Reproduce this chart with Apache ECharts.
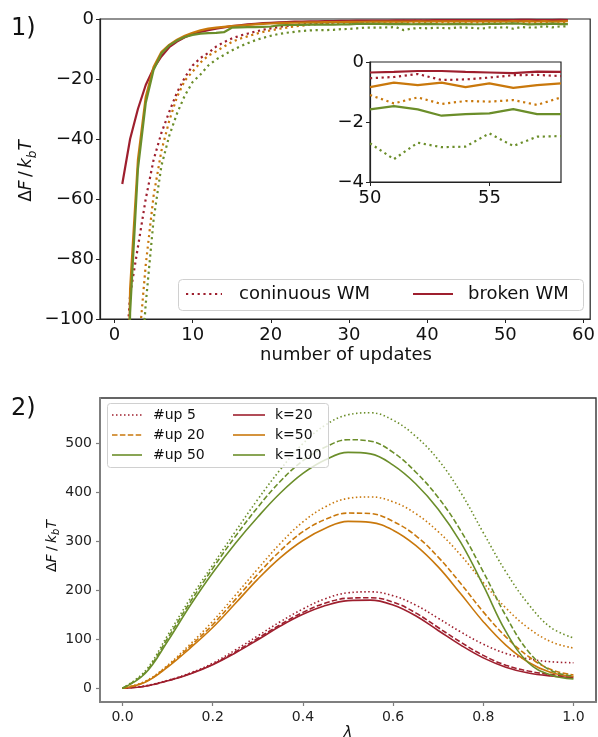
<!DOCTYPE html>
<html>
<head>
<meta charset="utf-8">
<script src="https://cdn.jsdelivr.net/npm/echarts@6/dist/echarts.min.js"></script>
<style>
  html, body { margin: 0; padding: 0; background: #fff; }
  #chart { width: 598px; height: 737px; }
</style>
</head>
<body>
<div id="chart"></div>
<script>
// ---------- panel 1: free energy vs number of updates ----------
const updates = [1,2,3,4,5,6,7,8,9,10,11,12,13,14,15,16,17,18,19,20,21,22,23,24,25,26,27,28,29,30,
  31,32,33,34,35,36,37,38,39,40,41,42,43,44,45,46,47,48,49,50,51,52,53,54,55,56,57,58];

// continuous WM (dotted)
const contRed = [-130,-92,-76,-60,-47,-38,-31,-24.5,-19.5,-15.5,-13,-11.3,-9.2,-7.7,-6.5,-5.6,-4.9,-4.2,-3.6,-3.1,
  -2.7,-2.3,-2.0,-1.7,-1.5,-1.4,-1.25,-1.1,-1.0,-1.0,-0.9,-0.85,-0.8,-0.75,-0.75,-0.7,-0.65,-0.68,-0.6,-0.62,
  -0.58,-0.6,-0.55,-0.57,-0.52,-0.55,-0.5,-0.53,-0.5,-0.54,-0.5,-0.4,-0.6,-0.58,-0.52,-0.44,-0.43,-0.47];
const contOrange = [-200,-150,-112,-82,-59,-44,-34,-26,-20.5,-17.5,-14.5,-12.2,-10.8,-9.2,-7.7,-6.6,-5.8,-5.0,-4.3,-3.8,
  -3.3,-2.9,-2.5,-2.2,-1.9,-1.7,-1.55,-1.4,-1.35,-1.3,-1.25,-1.2,-1.2,-1.15,-1.2,-1.15,-1.1,-1.2,-1.15,-1.1,
  -1.2,-1.15,-1.25,-1.2,-1.15,-1.25,-1.2,-1.3,-1.2,-1.1,-1.38,-1.18,-1.4,-1.3,-1.32,-1.27,-1.43,-1.18];
const contGreen = [-220,-170,-130,-95,-67,-49,-39,-31.5,-25.5,-21,-18.5,-15.5,-13.5,-12,-10.5,-9.2,-8.1,-7.1,-6.3,-5.6,
  -5.0,-4.6,-4.3,-4.0,-3.8,-3.7,-3.7,-3.6,-3.4,-3.3,-3.1,-2.9,-2.9,-2.9,-2.8,-2.7,-3.7,-3.2,-3.0,-3.1,
  -2.9,-3.0,-3.1,-2.8,-2.9,-3.0,-3.2,-2.8,-2.9,-2.71,-3.24,-2.69,-2.84,-2.82,-2.38,-2.8,-2.49,-2.47];

// broken WM (solid)
const brokenRed = [-55,-40,-30,-22,-16.5,-12.5,-9.4,-7.5,-6.1,-5.0,-4.3,-3.7,-3.2,-2.8,-2.4,-2.1,-1.8,-1.6,-1.4,-1.25,
  -1.1,-1.0,-0.9,-0.85,-0.8,-0.75,-0.7,-0.68,-0.62,-0.6,-0.57,-0.55,-0.52,-0.5,-0.5,-0.47,-0.45,-0.44,-0.42,-0.42,
  -0.4,-0.4,-0.39,-0.38,-0.38,-0.37,-0.37,-0.36,-0.35,-0.35,-0.33,-0.3,-0.3,-0.33,-0.35,-0.37,-0.32,-0.33];
const brokenOrange = [-240,-90,-47,-26,-16,-11,-8.6,-6.9,-5.6,-4.6,-3.8,-3.2,-2.9,-2.6,-2.4,-2.2,-2.0,-1.8,-1.6,-1.5,
  -1.4,-1.3,-1.25,-1.2,-1.15,-1.1,-1.05,-1.0,-1.0,-0.95,-0.95,-0.92,-0.9,-0.9,-0.88,-0.85,-0.86,-0.84,-0.82,-0.83,
  -0.8,-0.82,-0.79,-0.8,-0.78,-0.8,-0.77,-0.79,-0.76,-0.84,-0.69,-0.77,-0.69,-0.84,-0.71,-0.86,-0.77,-0.71];
const brokenGreen = [-260,-98,-50,-28,-17,-11.5,-8.8,-7.2,-6.0,-5.3,-4.9,-4.7,-4.6,-4.4,-2.9,-2.8,-2.7,-2.7,-2.6,-2.5,
  -2.1,-2.0,-2.0,-1.95,-1.9,-1.9,-1.85,-1.85,-1.8,-1.8,-1.6,-1.6,-1.65,-1.6,-1.7,-1.7,-1.65,-1.75,-1.7,-1.65,
  -1.7,-1.75,-1.7,-1.65,-1.7,-1.75,-1.7,-1.6,-1.65,-1.58,-1.47,-1.58,-1.79,-1.74,-1.71,-1.57,-1.74,-1.74];

const mainXTicks = [0, 10, 20, 30, 40, 50, 60];
const insetXTicks = [50, 55];

// ---------- panel 2: free energy profile along lambda ----------
const lambdaGrid = [0,0.05,0.1,0.15,0.2,0.25,0.3,0.35,0.4,0.45,0.5,0.55,0.6,0.65,0.7,0.75,0.8,0.85,0.9,0.95,1.0];

const k20up5   = [0,5,16,31,51,78,107,136,162,183,195,197,189,170,143,115,90,71,60,54,52];
const k20up20  = [0,4,15,30,49,74,102,130,155,174,184,185,176,154,124,94,67,47,35,28,24];
const k20up50  = [0,4,15,29,48,72,99,127,151,169,179,180,170,148,118,88,62,43,31,25,22];
const k50up5   = [0,14,47,90,137,190,244,296,340,371,388,391,381,357,320,272,216,164,123,95,82];
const k50up20  = [0,13,45,86,130,181,233,281,320,345,358,357,341,312,268,214,156,105,65,38,27];
const k50up50  = [0,12,43,82,124,173,223,267,302,327,341,339,323,292,248,193,136,88,53,32,24];
const k100up5  = [0,35,108,183,252,320,386,447,500,538,559,563,548,515,467,400,318,238,172,124,103];
const k100up20 = [0,32,102,176,245,310,370,423,465,493,508,505,482,442,390,322,238,148,75,36,25];
const k100up50 = [0,30,96,169,236,296,350,399,439,467,482,479,456,418,366,298,210,116,52,27,19];

const lambdaTicks = [0, 0.2, 0.4, 0.6, 0.8, 1.0];
const energyTicks = [0, 100, 200, 300, 400, 500];

// ---------- styling ----------
const RED = '#9e1f2e', ORANGE = '#c9780c', GREEN = '#6b8e2a';
const FONT = 'DejaVu Sans';
const minus = v => String(v).replace('-', '\u2212');

const pairs = (xs, ys) => xs.map((x, i) => [x, ys[i]]);
const tail = (xs, ys, from) => pairs(xs, ys).filter(p => p[0] >= from);

const DOT_TOP = [2.2, 3.6];
const DOT_BOT = [1.5, 2.5];
const DASH_BOT = [5.5, 2.4];

function topLine(data, color, dotted, axis) {
  return {
    type: 'line', xAxisIndex: axis, yAxisIndex: axis, data: data,
    symbol: 'none', silent: true, z: axis === 1 ? 6 : 3,
    lineStyle: { color: color, width: 2.2, type: dotted ? DOT_TOP : 'solid' }
  };
}
function botLine(ys, color, style) {
  return {
    type: 'line', xAxisIndex: 2, yAxisIndex: 2, data: pairs(lambdaGrid, ys),
    symbol: 'none', silent: true, smooth: 0.4, z: 3,
    lineStyle: { color: color, width: 1.6, type: style === 'dot' ? DOT_BOT : style === 'dash' ? DASH_BOT : 'solid' }
  };
}

const darkAxis = { show: true, onZero: false, lineStyle: { color: '#222', width: 1.2 } };
const greyAxis = { show: true, onZero: false, lineStyle: { color: '#7f7f7f', width: 2 } };

const option = {
  animation: false,
  backgroundColor: '#fff',
  textStyle: { fontFamily: FONT },
  grid: [
    { left: 100, top: 19, width: 492, height: 300, show: true, borderColor: '#222', borderWidth: 1.2, backgroundColor: '#fff' },
    { left: 370, top: 62, width: 191, height: 120, show: true, borderColor: '#222', borderWidth: 1.2, backgroundColor: '#fff', z: 4 },
    { left: 100, top: 398, width: 496, height: 304, show: true, borderColor: '#333', borderWidth: 1.4, backgroundColor: '#fff' }
  ],
  xAxis: [
    { gridIndex: 0, type: 'value', min: -1.85, max: 60.85, splitLine: { show: false },
      axisLine: darkAxis, axisTick: { show: true, length: 4, lineStyle: { color: '#222' }, customValues: mainXTicks },
      axisLabel: { fontSize: 18, color: '#111', margin: 7, customValues: mainXTicks, formatter: minus } },
    { gridIndex: 1, type: 'value', min: 50, max: 58, splitLine: { show: false }, z: 5,
      axisLine: darkAxis, axisTick: { show: true, length: 4, lineStyle: { color: '#222' }, customValues: insetXTicks },
      axisLabel: { fontSize: 18, color: '#111', margin: 7, customValues: insetXTicks, formatter: minus } },
    { gridIndex: 2, type: 'value', min: -0.05, max: 1.05, splitLine: { show: false },
      axisLine: greyAxis, axisTick: { show: true, length: 4, lineStyle: { color: '#7f7f7f', width: 1.2 }, customValues: lambdaTicks },
      axisLabel: { fontSize: 14, color: '#222', margin: 8, customValues: lambdaTicks, formatter: v => v.toFixed(1) } }
  ],
  yAxis: [
    { gridIndex: 0, type: 'value', min: -100, max: 0, interval: 20, splitLine: { show: false },
      axisLine: darkAxis, axisTick: { show: true, length: 4, lineStyle: { color: '#222' } },
      axisLabel: { fontSize: 18, color: '#111', margin: 6, formatter: minus } },
    { gridIndex: 1, type: 'value', min: -4, max: 0, interval: 2, splitLine: { show: false }, z: 5,
      axisLine: darkAxis, axisTick: { show: true, length: 4, lineStyle: { color: '#222' } },
      axisLabel: { fontSize: 18, color: '#111', margin: 6, formatter: minus } },
    { gridIndex: 2, type: 'value', min: -28.25, max: 593.25, splitLine: { show: false },
      axisLine: greyAxis, axisTick: { show: true, length: 4, lineStyle: { color: '#7f7f7f', width: 1.2 }, customValues: energyTicks },
      axisLabel: { fontSize: 14, color: '#222', margin: 8, customValues: energyTicks } }
  ],
  series: [
    topLine(pairs(updates, contRed), RED, true, 0),
    topLine(pairs(updates, contOrange), ORANGE, true, 0),
    topLine(pairs(updates, contGreen), GREEN, true, 0),
    topLine(pairs(updates, brokenRed), RED, false, 0),
    topLine(pairs(updates, brokenOrange), ORANGE, false, 0),
    topLine(pairs(updates, brokenGreen), GREEN, false, 0),

    topLine(tail(updates, contRed, 50), RED, true, 1),
    topLine(tail(updates, contOrange, 50), ORANGE, true, 1),
    topLine(tail(updates, contGreen, 50), GREEN, true, 1),
    topLine(tail(updates, brokenRed, 50), RED, false, 1),
    topLine(tail(updates, brokenOrange, 50), ORANGE, false, 1),
    topLine(tail(updates, brokenGreen, 50), GREEN, false, 1),

    botLine(k20up5, RED, 'dot'),
    botLine(k20up20, RED, 'dash'),
    botLine(k20up50, RED, 'solid'),
    botLine(k50up5, ORANGE, 'dot'),
    botLine(k50up20, ORANGE, 'dash'),
    botLine(k50up50, ORANGE, 'solid'),
    botLine(k100up5, GREEN, 'dot'),
    botLine(k100up20, GREEN, 'dash'),
    botLine(k100up50, GREEN, 'solid')
  ],
  graphic: [
    // panel tags
    { type: 'text', left: 11, top: 17, z: 20, style: { text: '1)', font: '24px "DejaVu Sans"', fill: '#111' } },
    { type: 'text', left: 11, top: 397, z: 20, style: { text: '2)', font: '24px "DejaVu Sans"', fill: '#111' } },

    // axis titles, panel 1
    { type: 'text', x: 27, y: 171, rotation: Math.PI / 2, z: 20,
      style: { text: '{u|Δ}{i|F} {u|/} {i|k}{s|b}{i|T}', align: 'center', verticalAlign: 'middle', fill: '#111',
        rich: {
          u: { fontFamily: FONT, fontSize: 17, lineHeight: 23, fill: '#111' },
          i: { fontFamily: FONT, fontSize: 17, lineHeight: 23, fontStyle: 'italic', fill: '#111' },
          s: { fontFamily: FONT, fontSize: 12, lineHeight: 13, fontStyle: 'italic', verticalAlign: 'bottom', fill: '#111' }
        } } },
    { type: 'text', x: 346, y: 355, z: 20,
      style: { text: 'number of updates', font: '18px "DejaVu Sans"', fill: '#111', align: 'center', verticalAlign: 'middle' } },

    // axis titles, panel 2
    { type: 'text', x: 52, y: 546, rotation: Math.PI / 2, z: 20,
      style: { text: '{u|Δ}{i|F} {u|/} {i|k}{s|b}{i|T}', align: 'center', verticalAlign: 'middle', fill: '#111',
        rich: {
          u: { fontFamily: FONT, fontSize: 14, lineHeight: 18, fill: '#111' },
          i: { fontFamily: FONT, fontSize: 14, lineHeight: 18, fontStyle: 'italic', fill: '#111' },
          s: { fontFamily: FONT, fontSize: 10, lineHeight: 10, fontStyle: 'italic', verticalAlign: 'bottom', fill: '#111' }
        } } },
    { type: 'text', x: 348, y: 733, z: 20,
      style: { text: 'λ', font: 'italic 15px "DejaVu Sans"', fill: '#111', align: 'center', verticalAlign: 'middle' } },

    // legend, panel 1
    { type: 'rect', z: 20, shape: { x: 178.5, y: 279.5, width: 405, height: 31, r: 4 },
      style: { fill: 'rgba(255,255,255,0.8)', stroke: '#d0d0d0', lineWidth: 1 } },
    { type: 'line', z: 21, shape: { x1: 186, y1: 294, x2: 222, y2: 294 },
      style: { stroke: RED, lineWidth: 2.2, lineDash: DOT_TOP } },
    { type: 'text', z: 21, x: 239, y: 294,
      style: { text: 'coninuous WM', font: '18px "DejaVu Sans"', fill: '#111', verticalAlign: 'middle' } },
    { type: 'line', z: 21, shape: { x1: 413, y1: 294, x2: 453, y2: 294 },
      style: { stroke: RED, lineWidth: 2.2 } },
    { type: 'text', z: 21, x: 468, y: 294,
      style: { text: 'broken WM', font: '18px "DejaVu Sans"', fill: '#111', verticalAlign: 'middle' } },

    // legend, panel 2
    { type: 'rect', z: 20, shape: { x: 107.5, y: 403.5, width: 221, height: 64, r: 3 },
      style: { fill: 'rgba(255,255,255,0.8)', stroke: '#d0d0d0', lineWidth: 1 } },
    { type: 'line', z: 21, shape: { x1: 112, y1: 415, x2: 142, y2: 415 }, style: { stroke: RED, lineWidth: 1.6, lineDash: DOT_BOT } },
    { type: 'line', z: 21, shape: { x1: 112, y1: 435, x2: 142, y2: 435 }, style: { stroke: ORANGE, lineWidth: 1.6, lineDash: DASH_BOT } },
    { type: 'line', z: 21, shape: { x1: 112, y1: 455, x2: 142, y2: 455 }, style: { stroke: GREEN, lineWidth: 1.6 } },
    { type: 'text', z: 21, x: 153, y: 415, style: { text: '#up 5', font: '14px "DejaVu Sans"', fill: '#111', verticalAlign: 'middle' } },
    { type: 'text', z: 21, x: 153, y: 435, style: { text: '#up 20', font: '14px "DejaVu Sans"', fill: '#111', verticalAlign: 'middle' } },
    { type: 'text', z: 21, x: 153, y: 455, style: { text: '#up 50', font: '14px "DejaVu Sans"', fill: '#111', verticalAlign: 'middle' } },
    { type: 'line', z: 21, shape: { x1: 233, y1: 415, x2: 265, y2: 415 }, style: { stroke: RED, lineWidth: 1.6 } },
    { type: 'line', z: 21, shape: { x1: 233, y1: 435, x2: 265, y2: 435 }, style: { stroke: ORANGE, lineWidth: 1.6 } },
    { type: 'line', z: 21, shape: { x1: 233, y1: 455, x2: 265, y2: 455 }, style: { stroke: GREEN, lineWidth: 1.6 } },
    { type: 'text', z: 21, x: 275, y: 415, style: { text: 'k=20', font: '14px "DejaVu Sans"', fill: '#111', verticalAlign: 'middle' } },
    { type: 'text', z: 21, x: 275, y: 435, style: { text: 'k=50', font: '14px "DejaVu Sans"', fill: '#111', verticalAlign: 'middle' } },
    { type: 'text', z: 21, x: 275, y: 455, style: { text: 'k=100', font: '14px "DejaVu Sans"', fill: '#111', verticalAlign: 'middle' } }
  ]
};

const chart = echarts.init(document.getElementById('chart'), null, { renderer: 'canvas', width: 598, height: 737 });
chart.setOption(option);
</script>
</body>
</html>
